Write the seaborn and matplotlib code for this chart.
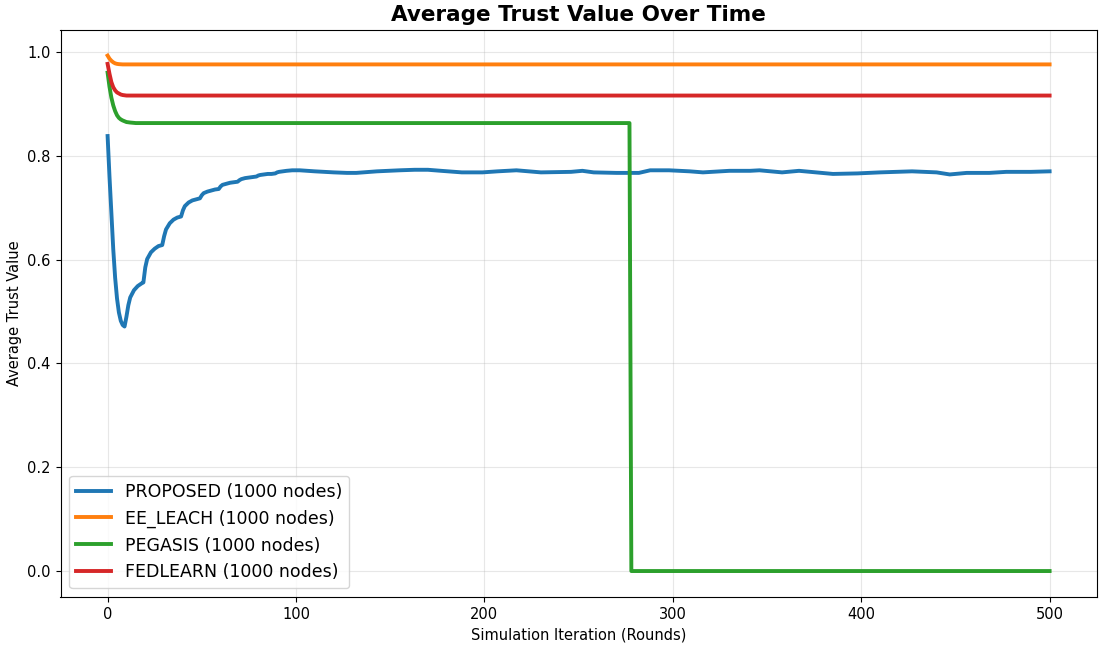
import matplotlib
matplotlib.use("Agg")
import matplotlib.pyplot as plt
import seaborn as sns
import pandas as pd

# Average trust values
proposed_rounds = [0, 1, 2, 3, 4, 5, 6, 7, 8, 9, 10, 11, 12, 14, 16, 18, 19, 20, 21, 23, 25, 27, 29,
                   30, 31, 33, 35, 37, 39, 40, 41, 43, 45, 47, 49, 50, 51, 53, 55, 57, 59, 60, 61,
                   63, 65, 67, 69, 70, 71, 73, 75, 77, 79, 80, 81, 83, 85, 87, 89, 90, 91, 93, 95,
                   98, 102, 110, 120, 127, 132, 143, 155, 163, 170, 177, 188, 199, 207, 217, 230,
                   246, 252, 258, 270, 277, 282, 288, 298, 309, 316, 330, 341, 346, 358, 367, 385,
                   398, 410, 427, 440, 447, 456, 468, 477, 490, 500]
proposed_trust = [0.838, 0.76, 0.69, 0.62, 0.565, 0.525, 0.498, 0.482, 0.474, 0.471, 0.49, 0.512,
                  0.527, 0.541, 0.549, 0.554, 0.556, 0.585, 0.601, 0.614, 0.621, 0.626, 0.628,
                  0.645, 0.658, 0.670, 0.677, 0.681, 0.683, 0.695, 0.703, 0.710, 0.714, 0.716,
                  0.718, 0.724, 0.728, 0.731, 0.733, 0.735, 0.736, 0.741, 0.744, 0.746, 0.748,
                  0.749, 0.750, 0.753, 0.755, 0.757, 0.758, 0.759, 0.760, 0.762, 0.763, 0.764,
                  0.765, 0.765, 0.766, 0.768, 0.769, 0.770, 0.771, 0.772, 0.772, 0.770, 0.768,
                  0.767, 0.767, 0.770, 0.772, 0.773, 0.773, 0.771, 0.768, 0.768, 0.770, 0.772,
                  0.768, 0.769, 0.771, 0.768, 0.767, 0.767, 0.767, 0.772, 0.772, 0.770, 0.768,
                  0.771, 0.771, 0.772, 0.768, 0.771, 0.765, 0.766, 0.768, 0.770, 0.768, 0.764,
                  0.767, 0.767, 0.769, 0.769, 0.770]

ee_leach_rounds = [0, 1, 2, 3, 4, 5, 6, 8, 10, 12, 100, 200, 300, 400, 500]
ee_leach_trust = [0.993, 0.987, 0.983, 0.980, 0.978, 0.977, 0.9765, 0.976, 0.976, 0.976,
                  0.976, 0.976, 0.976, 0.976, 0.976]

pegasis_rounds = [0, 1, 2, 3, 4, 5, 6, 7, 8, 10, 12, 15, 100, 200, 277, 278, 400, 500]
pegasis_trust = [0.960, 0.933, 0.912, 0.897, 0.886, 0.878, 0.873, 0.870, 0.868, 0.865,
                 0.864, 0.863, 0.863, 0.863, 0.863, 0.0, 0.0, 0.0]

fedlearn_rounds = [0, 1, 2, 3, 4, 5, 6, 7, 8, 10, 12, 15, 100, 200, 300, 400, 500]
fedlearn_trust = [0.977, 0.958, 0.942, 0.932, 0.926, 0.922, 0.920, 0.918, 0.917, 0.916,
                  0.916, 0.916, 0.916, 0.916, 0.916, 0.916, 0.916]

frames = []
for name, rounds, trust in [
    ("PROPOSED (1000 nodes)", proposed_rounds, proposed_trust),
    ("EE_LEACH (1000 nodes)", ee_leach_rounds, ee_leach_trust),
    ("PEGASIS (1000 nodes)", pegasis_rounds, pegasis_trust),
    ("FEDLEARN (1000 nodes)", fedlearn_rounds, fedlearn_trust),
]:
    frames.append(pd.DataFrame({"Round": rounds, "Trust": trust, "Method": name}))
df = pd.concat(frames, ignore_index=True)

fig, ax = plt.subplots(figsize=(11, 6.48), dpi=100)
sns.lineplot(data=df, x="Round", y="Trust", hue="Method", palette="tab10",
             linewidth=2.8, ax=ax, sort=False)

ax.set_title("Average Trust Value Over Time", fontsize=15.5, fontweight="bold")
ax.set_xlabel("Simulation Iteration (Rounds)", fontsize=10.5)
ax.set_ylabel("Average Trust Value", fontsize=10.5)
ax.tick_params(labelsize=10.5)
ax.grid(True, alpha=0.3)
ax.legend(loc="lower left", fontsize=12.5)
for spine in ax.spines.values():
    spine.set_color("black")

plt.subplots_adjust(left=0.055, right=0.997, top=0.954, bottom=0.079)
plt.savefig("out.png", dpi=100)
